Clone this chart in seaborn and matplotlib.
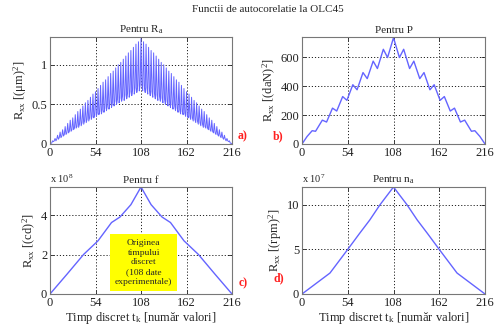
import numpy as np
import matplotlib
matplotlib.use("Agg")
import matplotlib.pyplot as plt
import seaborn as sns

# ---------------- data ----------------
x_ticks = [0, 54, 108, 162, 216]

# a) R_a autocorrelation, one value per discrete lag 0..216  [(um)^2]
ra_vals = [
    0.00, 0.01, 0.01, 0.04, 0.03, 0.04, 0.07, 0.04, 0.06, 0.11,
    0.06, 0.08, 0.15, 0.08, 0.10, 0.18, 0.10, 0.12, 0.22, 0.12,
    0.14, 0.26, 0.14, 0.16, 0.30, 0.16, 0.18, 0.33, 0.18, 0.20,
    0.37, 0.20, 0.22, 0.41, 0.21, 0.25, 0.44, 0.23, 0.27, 0.48,
    0.25, 0.29, 0.52, 0.27, 0.31, 0.55, 0.29, 0.33, 0.59, 0.31,
    0.35, 0.63, 0.33, 0.37, 0.66, 0.35, 0.39, 0.70, 0.37, 0.41,
    0.74, 0.38, 0.43, 0.78, 0.40, 0.45, 0.81, 0.42, 0.48, 0.85,
    0.44, 0.50, 0.89, 0.46, 0.52, 0.92, 0.48, 0.54, 0.96, 0.50,
    0.56, 1.00, 0.52, 0.58, 1.03, 0.54, 0.60, 1.07, 0.55, 0.62,
    1.11, 0.57, 0.64, 1.15, 0.59, 0.66, 1.18, 0.61, 0.69, 1.22,
    0.63, 0.71, 1.26, 0.65, 0.73, 1.29, 0.67, 0.75, 1.33,
    0.75, 0.67, 1.29, 0.73, 0.65, 1.26, 0.71, 0.63,
    1.22, 0.69, 0.61, 1.18, 0.66, 0.59, 1.15, 0.64, 0.57, 1.11,
    0.62, 0.55, 1.07, 0.60, 0.54, 1.03, 0.58, 0.52, 1.00, 0.56,
    0.50, 0.96, 0.54, 0.48, 0.92, 0.52, 0.46, 0.89, 0.50, 0.44,
    0.85, 0.48, 0.42, 0.81, 0.45, 0.40, 0.78, 0.43, 0.38, 0.74,
    0.41, 0.37, 0.70, 0.39, 0.35, 0.66, 0.37, 0.33, 0.63, 0.35,
    0.31, 0.59, 0.33, 0.29, 0.55, 0.31, 0.27, 0.52, 0.29, 0.25,
    0.48, 0.27, 0.23, 0.44, 0.25, 0.21, 0.41, 0.22, 0.20, 0.37,
    0.20, 0.18, 0.33, 0.18, 0.16, 0.30, 0.16, 0.14, 0.26, 0.14,
    0.12, 0.22, 0.12, 0.10, 0.18, 0.10, 0.08, 0.15, 0.08, 0.06,
    0.11, 0.06, 0.04, 0.07, 0.04, 0.03, 0.04, 0.01, 0.01, 0.00,
]
ra_lags = list(range(len(ra_vals)))

# b) P autocorrelation [(daN)^2], read at the bends of the curve
p_lags = [0, 6, 12, 16, 24, 29, 36, 41, 48, 53, 60, 65, 72, 77, 84, 89, 96, 101, 108,
          115, 120, 127, 132, 139, 144, 151, 156, 163, 168, 175, 180, 187, 192, 200, 204, 210, 216]
p_vals = [0, 52, 92, 88, 165, 152, 248, 228, 328, 302, 410, 375, 494, 452, 573, 522, 655, 598, 735,
          598, 655, 522, 573, 452, 494, 375, 410, 302, 328, 228, 248, 152, 165, 88, 92, 52, 0]

# c) f autocorrelation [(cd)^2], x 10^8
f_lags = [0, 20, 40, 57, 73, 83, 96, 108, 120, 133, 143, 159, 176, 196, 216]
f_vals = [0, 1.00, 2.02, 2.71, 3.64, 3.92, 4.55, 5.45, 4.55, 3.92, 3.64, 2.71, 2.02, 1.00, 0]

# d) n_a autocorrelation [(rpm)^2], x 10^7
n_lags = [0, 33, 54, 68, 80, 92, 100, 108, 116, 124, 136, 148, 162, 183, 216]
n_vals = [0, 2.35, 5.0, 6.8, 8.3, 10.0, 11.0, 12.0, 11.0, 10.0, 8.3, 6.8, 5.0, 2.35, 0]

titles = ["Pentru R$_{\\mathrm{a}}$", "Pentru P", "Pentru f", "Pentru n$_{\\mathrm{a}}$"]
ylabels = ["R$_{\\mathrm{xx}}$ [(\u03bcm)$^{2}$]", "R$_{\\mathrm{xx}}$ [(daN)$^{2}$]",
           "R$_{\\mathrm{xx}}$ [(cd)$^{2}$]", "R$_{\\mathrm{xx}}$ [(rpm)$^{2}$]"]
panel_tags = ["a)", "b)", "c)", "d)"]
y_ticks = [[0, 0.5, 1], [0, 200, 400, 600], [0, 2, 4], [0, 5, 10]]
y_ticklabels = [["0", "0.5", "1"], ["0", "200", "400", "600"], ["0", "2", "4"], ["0", "5", "10"]]
y_tops = [1.35, 740, 5.45, 12.0]
xlabel = "Timp discret t$_{\\mathrm{k}}$ [număr valori]"
suptitle = "Functii de autocorelatie la OLC45"
box_text = "Originea\ntimpului\ndiscret\n(108 date\nexperimentale)"

# ---------------- style ----------------
sns.set_theme(style="white")
plt.rcParams["font.family"] = ["Liberation Serif", "DejaVu Serif"]
plt.rcParams["mathtext.fontset"] = "custom"
plt.rcParams["mathtext.rm"] = "Liberation Serif"
plt.rcParams["mathtext.it"] = "Liberation Serif:italic"

W, H = 494, 331
fig = plt.figure(figsize=(W / 100, H / 100), dpi=100)
fig.patch.set_facecolor("white")

def frac(l, t, r, b):
    return [l / W, 1 - b / H, (r - l) / W, (b - t) / H]

rects = [frac(50, 37, 232, 144), frac(302, 37, 485, 144),
         frac(50, 187, 232, 294), frac(302, 187, 485, 294)]

series = [(ra_lags, ra_vals), (p_lags, p_vals), (f_lags, f_vals), (n_lags, n_vals)]
line_color = "#6464ff"
fs = 9

axes = []
for i, rect in enumerate(rects):
    ax = fig.add_axes(rect)
    axes.append(ax)
    xs, ys = series[i]
    sns.lineplot(x=xs, y=ys, ax=ax, color=line_color,
                 linewidth=1.0 if i else 0.7, estimator=None, sort=False)
    ax.set_xlim(0, 216)
    ax.set_ylim(0, y_tops[i])
    ax.set_xticks(x_ticks)
    ax.set_xticklabels([str(v) for v in x_ticks], fontsize=fs)
    ax.set_yticks(y_ticks[i])
    ax.set_yticklabels(y_ticklabels[i], fontsize=fs)
    ax.tick_params(direction="in", length=3, width=0.6, pad=2, colors="#222222",
                   top=True, right=True, bottom=True, left=True)
    ax.grid(True, linestyle=(0, (1.2, 2.0)), color="#222222", linewidth=0.7)
    for sp in ax.spines.values():
        sp.set_color("#777777")
        sp.set_linewidth(0.8)
    ax.set_title(titles[i], fontsize=8, pad=3)
    ax.set_ylabel(ylabels[i], fontsize=fs, labelpad=2)
    if i >= 2:
        ax.set_xlabel(xlabel, fontsize=fs, labelpad=1)
    else:
        ax.set_xlabel("")

# multiplier labels
axes[2].text(0.0, 1.02, "x 10$^{8}$", transform=axes[2].transAxes, fontsize=7.5,
             ha="left", va="bottom")
axes[3].text(0.0, 1.02, "x 10$^{7}$", transform=axes[3].transAxes, fontsize=7.5,
             ha="left", va="bottom")

# panel tags
tag_pos = [(243, 136), (278, 136), (243, 283), (279, 278)]
for (tx, ty), tag in zip(tag_pos, panel_tags):
    fig.text(tx / W, 1 - ty / H, tag, color="#ff2020", fontsize=8.5, fontweight="bold",
             ha="center", va="center")

# yellow annotation box in panel c)
axes[2].text(0.515, 0.295, box_text, transform=axes[2].transAxes, fontsize=6.8,
             ha="center", va="center", linespacing=1.3,
             bbox=dict(boxstyle="square,pad=0.5", facecolor="#ffff00",
                       edgecolor="none"))

fig.text(268 / W, 1 - 9 / H, suptitle, fontsize=8, ha="center", va="center")

fig.savefig("out.png", dpi=100, facecolor="white")
